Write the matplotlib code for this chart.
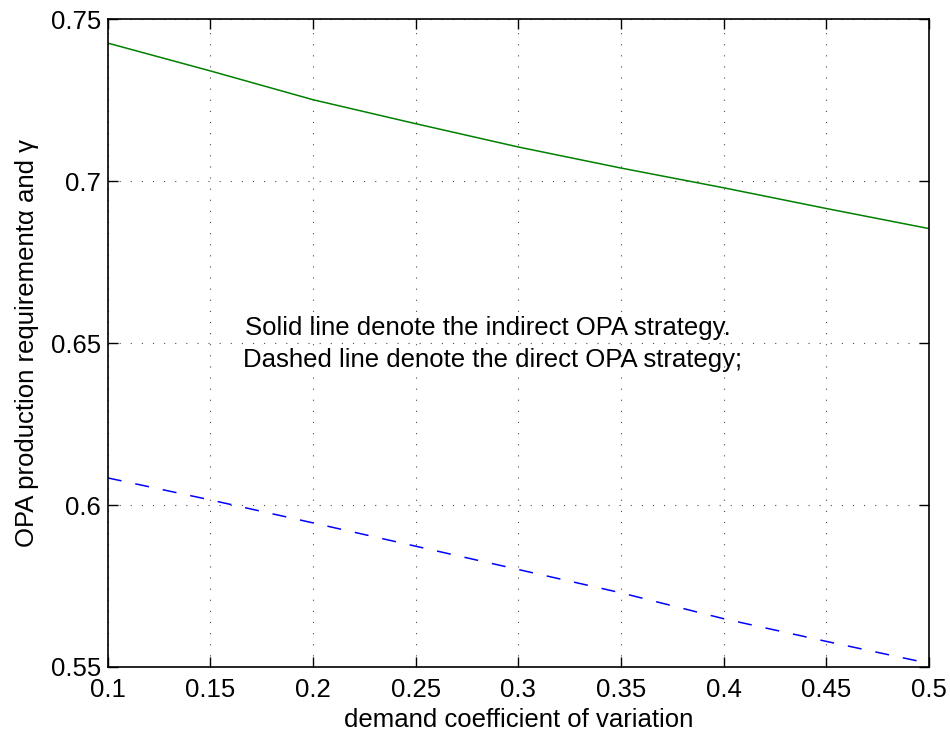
import numpy as np
import matplotlib
matplotlib.use('Agg')
import matplotlib.pyplot as plt

plt.rcParams['font.family'] = ['Liberation Sans', 'DejaVu Sans']

# demand coefficient of variation
cv = [0.1, 0.15, 0.2, 0.25, 0.3, 0.35, 0.4, 0.45, 0.5]
# indirect OPA strategy (solid)
indirect = [0.7427, 0.7341, 0.7252, 0.7178, 0.7106, 0.7041, 0.6980, 0.6916, 0.6854]
# direct OPA strategy (dashed)
direct = [0.6084, 0.6016, 0.5945, 0.5873, 0.5801, 0.5729, 0.5649, 0.5579, 0.5511]

FS = 18.5

fig = plt.figure(figsize=(9.5, 7.34), dpi=100)
ax = fig.add_axes([0.1134, 0.0913, 0.8646, 0.8822])

ax.plot(cv, indirect, color='#008000', lw=1.1)
ax.plot(cv, direct, color='#0000ff', lw=1.1, ls=(0, (9.2, 9.2)))

ax.set_xlim(0.1, 0.5)
ax.set_ylim(0.55, 0.75)
ax.set_xticks(np.arange(0.1, 0.501, 0.05))
ax.set_yticks([0.55, 0.6, 0.65, 0.7, 0.75])
ax.set_xticklabels(['0.1', '0.15', '0.2', '0.25', '0.3', '0.35', '0.4', '0.45', '0.5'])
ax.set_yticklabels(['0.55', '0.6', '0.65', '0.7', '0.75'])

ax.grid(True, color='black', ls=(0, (1, 9)), lw=0.8, alpha=0.7)
ax.tick_params(direction='in', top=True, right=True, length=7, width=1,
               labelsize=FS)
ax.tick_params(axis='x', pad=8)
ax.tick_params(axis='y', pad=5)
for s in ax.spines.values():
    s.set_linewidth(1.2)

ax.set_xlabel('demand coefficient of variation', fontsize=FS, labelpad=4)
ax.set_ylabel('OPA production requirement\u03b1 and \u03b3', fontsize=FS, labelpad=8)

ax.text(0.1669, 0.6546, 'Solid line denote the indirect OPA strategy.', fontsize=FS,
        va='center', ha='left')
ax.text(0.1658, 0.6447, 'Dashed line denote the direct OPA strategy;', fontsize=FS,
        va='center', ha='left')

fig.savefig('out.png', dpi=100)
